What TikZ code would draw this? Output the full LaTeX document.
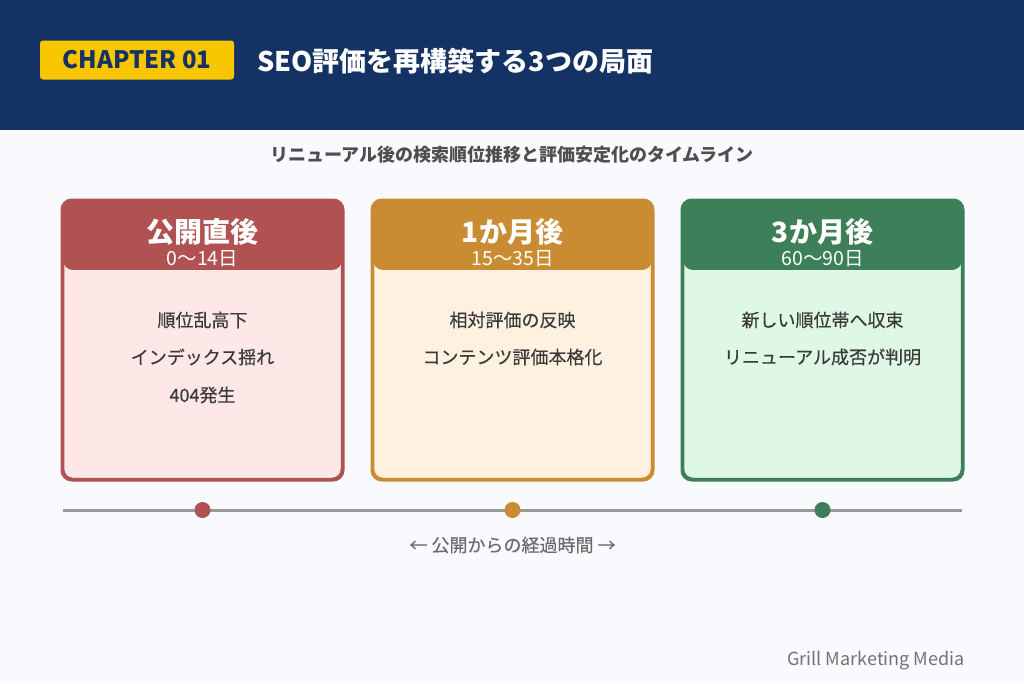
\documentclass[tikz,border=0pt]{standalone}
\usepackage{fontspec}
\setmainfont{Noto Sans CJK JP}
\newfontfamily\medfont[FakeBold=0.4]{Noto Sans CJK JP}
\usetikzlibrary{positioning}
\definecolor{navy}{HTML}{143263}
\definecolor{badge}{HTML}{F7C600}
\definecolor{paper}{HTML}{F8FAFE}
\definecolor{ink}{HTML}{3A3A3A}
\definecolor{r}{HTML}{B05152}
\definecolor{rl}{HTML}{FDE7E7}
\definecolor{o}{HTML}{C98C33}
\definecolor{ol}{HTML}{FEF1DF}
\definecolor{g}{HTML}{3C7F59}
\definecolor{gl}{HTML}{DFF8E6}
\newcommand{\fs}[1]{\fontsize{#1}{#1}\selectfont}

\begin{document}
\begin{tikzpicture}[x=1pt,y=-1pt,
  card/.style={draw=#1,line width=2.5pt,rounded corners=10pt,
    minimum width=279pt,minimum height=278pt,inner sep=0pt},
  cardhead/.style={fill=#1,rounded corners=10pt,
    minimum width=279pt,minimum height=70pt,inner sep=0pt,anchor=north},
  phase/.style={font=\fs{28}\bfseries,text=white},
  days/.style={font=\fs{19.5},text=white},
  item/.style={font=\fs{18}\medfont,text=ink},
  dot/.style={circle,fill=#1,minimum size=16pt,inner sep=0pt}]
  \useasboundingbox[fill=paper] (0,0) rectangle (1024,683);
  % header band
  \fill[navy] (0,0) rectangle (1024,130);
  \node[fill=badge,rounded corners=3pt,minimum width=194pt,minimum height=39pt,
    font=\fs{24}\bfseries,text=navy] (badge) at (137,60) {CHAPTER 01};
  \node[anchor=west,font=\fs{27}\bfseries,text=white,inner sep=0pt]
    (title) at (257,61) {SEO評価を再構築する3つの局面};
  \node[font=\fs{18}\bfseries,text=ink!90] (sub) at (512,155)
    {リニューアル後の検索順位推移と評価安定化のタイムライン};
  % cards
  \node[card=r,fill=rl] (c1) at (202.5,340) {};
  \node[card=o,fill=ol] (c2) at (512.5,340) {};
  \node[card=g,fill=gl] (c3) at (822.5,340) {};
  \node[cardhead=r] (h1) at (c1.north) {};
  \node[cardhead=o] (h2) at (c2.north) {};
  \node[cardhead=g] (h3) at (c3.north) {};
  \draw[r,line width=2.5pt,rounded corners=10pt] (c1.north west) rectangle (c1.south east);
  \draw[o,line width=2.5pt,rounded corners=10pt] (c2.north west) rectangle (c2.south east);
  \draw[g,line width=2.5pt,rounded corners=10pt] (c3.north west) rectangle (c3.south east);
  \node[phase] (p1) at (202.5,232) {公開直後};
  \node[days] (d1) at (202.5,259) {0〜14日};
  \node[phase] (p2) at (512.5,232) {1か月後};
  \node[days] (d2) at (512.5,259) {15〜35日};
  \node[phase] (p3) at (822.5,232) {3か月後};
  \node[days] (d3) at (822.5,259) {60〜90日};
  \node[item] (a1) at (202.5,320) {順位乱高下};
  \node[item] (a2) at (202.5,357) {インデックス揺れ};
  \node[item] (a3) at (202.5,395) {404発生};
  \node[item] (b1) at (512.5,320) {相対評価の反映};
  \node[item] (b2) at (512.5,357) {コンテンツ評価本格化};
  \node[item] (e1) at (822.5,320) {新しい順位帯へ収束};
  \node[item] (e2) at (822.5,357) {リニューアル成否が判明};
  % timeline
  \coordinate (t0) at (63,510);
  \coordinate (t1) at (962,510);
  \draw[black!40,line width=3pt] (t0) -- (t1);
  \node[dot=r] (m1) at (202.5,510) {};
  \node[dot=o] (m2) at (512.5,510) {};
  \node[dot=g] (m3) at (822.5,510) {};
  \node[font=\fs{18}\medfont,text=black!58] (axis) at (512.5,545)
    {← 公開からの経過時間 →};
  \node[anchor=east,font=\fs{18},text=black!55,inner sep=0pt] (brand)
    at (965,661) {Grill Marketing Media};
\end{tikzpicture}
\end{document}
